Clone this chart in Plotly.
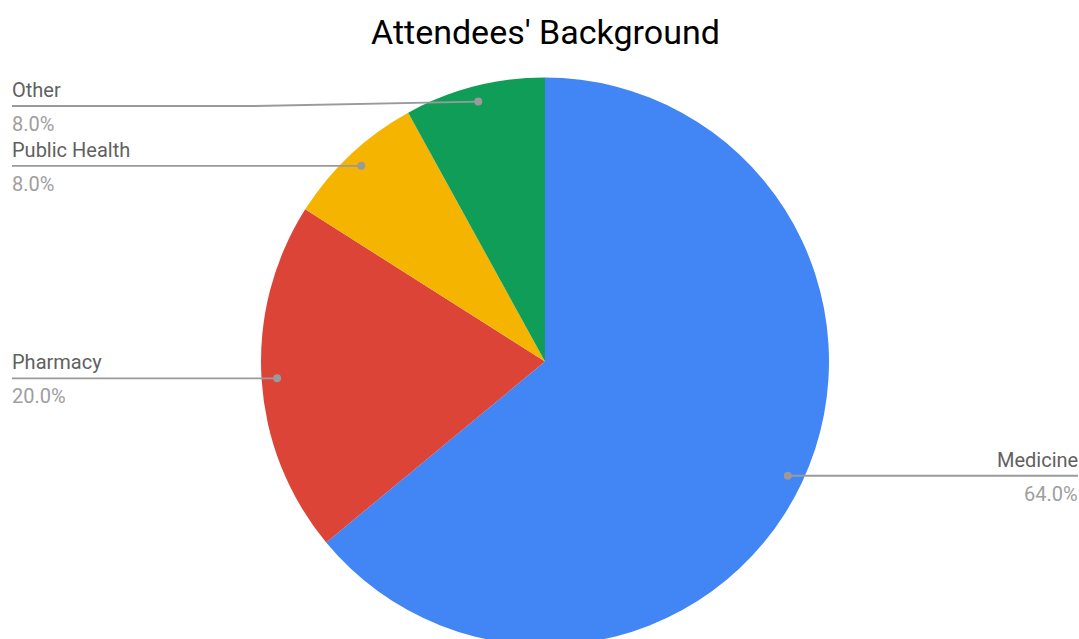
import math
import plotly.graph_objects as go

# ---- data ----
categories = ["Medicine", "Pharmacy", "Public Health", "Other"]
counts = [16, 5, 2, 2]
colors = ["#4285F4", "#DB4437", "#F4B400", "#0F9D58"]
title_text = "Attendees' Background"

# ---- layout constants (pixels) ----
W, H = 1079, 650
CX, CY, R = 545, 361.5, 284
DOT_FRAC = 0.945
LEFT_X, RIGHT_X = 12, 1078
MIN_LINE_Y = 106
ELBOW_X = 255
LINE_COLOR = "#9A9A9A"
NAME_COLOR = "#616161"
PCT_COLOR = "#9E9E9E"
FONT = "Roboto"
LABEL_SIZE = 20
TITLE_SIZE = 34


def px(x):
    return x / W


def py(y):
    return 1 - y / H


fig = go.Figure()
fig.add_trace(go.Pie(
    labels=categories,
    values=counts,
    marker=dict(colors=colors, line=dict(width=0)),
    sort=False,
    direction="clockwise",
    rotation=0,
    textinfo="none",
    hoverinfo="label+percent",
    showlegend=False,
    domain=dict(x=[px(CX - R), px(CX + R)], y=[py(CY + R), py(CY - R)]),
))

total = sum(counts)
shapes = []
annotations = []
cum = 0
for name, v in zip(categories, counts):
    frac = v / total
    mid = (cum + frac / 2) * 2 * math.pi
    cum += frac
    dx = CX + DOT_FRAC * R * math.sin(mid)
    dy = CY - DOT_FRAC * R * math.cos(mid)
    right = math.sin(mid) > 0
    line_y = max(dy, MIN_LINE_Y)
    end_x = RIGHT_X if right else LEFT_X
    if abs(line_y - dy) > 0.5:
        path = f"M {px(dx)} {py(dy)} L {px(ELBOW_X)} {py(line_y)} L {px(end_x)} {py(line_y)}"
    else:
        path = f"M {px(dx)} {py(dy)} L {px(end_x)} {py(line_y)}"
    shapes.append(dict(type="path", path=path, xref="paper", yref="paper",
                       line=dict(color=LINE_COLOR, width=1.8), layer="above"))
    shapes.append(dict(type="circle", xref="paper", yref="paper",
                       xsizemode="pixel", ysizemode="pixel",
                       xanchor=px(dx), yanchor=py(dy),
                       x0=-4, x1=4, y0=-4, y1=4,
                       fillcolor=LINE_COLOR, line=dict(width=0), layer="above"))
    anchor = "right" if right else "left"
    shift = 2 if right else -2
    annotations.append(dict(x=px(end_x), y=py(line_y - 16), xref="paper", yref="paper",
                            text=name, showarrow=False, xanchor=anchor, yanchor="middle",
                            xshift=shift,
                            font=dict(family=FONT, size=LABEL_SIZE, color=NAME_COLOR)))
    annotations.append(dict(x=px(end_x), y=py(line_y + 18), xref="paper", yref="paper",
                            text=f"{frac * 100:.1f}%", showarrow=False, xanchor=anchor,
                            yanchor="middle", xshift=shift,
                            font=dict(family=FONT, size=LABEL_SIZE, color=PCT_COLOR)))

annotations.append(dict(x=px(CX), y=py(32), xref="paper", yref="paper",
                        text=title_text, showarrow=False, xanchor="center", yanchor="middle",
                        font=dict(family=FONT, size=TITLE_SIZE, color="#000000")))

fig.update_layout(
    width=W, height=H,
    margin=dict(l=0, r=0, t=0, b=0),
    paper_bgcolor="#FFFFFF",
    plot_bgcolor="#FFFFFF",
    shapes=shapes,
    annotations=annotations,
    showlegend=False,
)

fig.write_html("out.html", config={"displayModeBar": False},
               post_script="document.body.style.margin='0';document.body.style.overflow='hidden';")
